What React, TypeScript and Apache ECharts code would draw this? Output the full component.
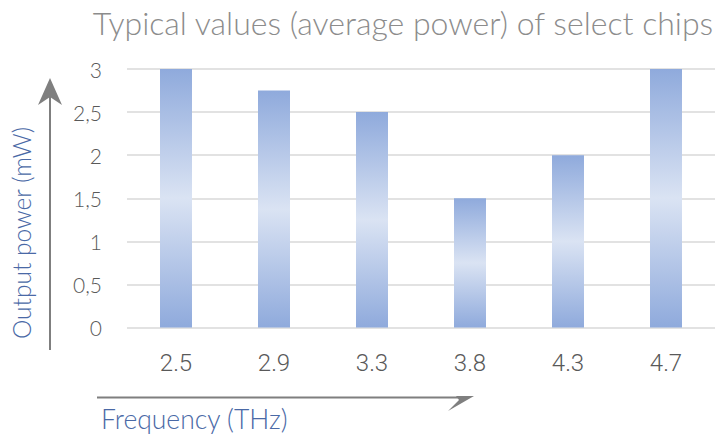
import React, { useEffect, useRef } from "react";
import * as echarts from "echarts";

const categories = ["2.5", "2.9", "3.3", "3.8", "4.3", "4.7"];
const outputPower = [3, 2.75, 2.5, 1.5, 2, 3];
const chartTitle = "Typical values (average power) of select chips";
const xTitle = "Frequency (THz)";
const yTitle = "Output power (mW)";

export default function App() {
  const ref = useRef<HTMLDivElement>(null);
  useEffect(() => {
    document.body.style.margin = "0";
    if (!ref.current) return;
    const chart = echarts.init(ref.current, null, { renderer: "svg" });
    const grad = new echarts.graphic.LinearGradient(0, 0, 0, 1, [
      { offset: 0, color: "#8faadc" },
      { offset: 0.5, color: "#dae3f3" },
      { offset: 1, color: "#8faadc" },
    ]);
    chart.setOption({
      animation: false,
      grid: { left: 127, right: 4, top: 69, bottom: 106.5 },
      xAxis: {
        type: "category",
        data: categories,
        axisLine: { show: false },
        axisTick: { show: false },
        axisLabel: {
          margin: 23,
          color: "#595959",
          fontFamily: "Roboto",
          fontWeight: 300,
          fontSize: 24,
        },
      },
      yAxis: {
        type: "value",
        min: 0,
        max: 3,
        interval: 0.5,
        axisLine: { show: false },
        axisTick: { show: false },
        splitLine: { lineStyle: { color: "#d9d9d9", width: 1.5 } },
        axisLabel: {
          margin: 25,
          color: "#595959",
          fontFamily: "Lato",
          fontWeight: 300,
          fontSize: 21,
          formatter: (v: number) => String(v).replace(".", ","),
        },
      },
      series: [
        {
          type: "bar",
          data: outputPower,
          barWidth: 32,
          itemStyle: { color: grad },
        },
      ],
      graphic: [
        {
          type: "text",
          x: 403,
          y: 22,
          style: {
            text: chartTitle,
            fill: "#8c8c8c",
            font: "300 32px Lato",
            align: "center",
            verticalAlign: "middle",
          },
        },
        {
          type: "text",
          x: 101,
          y: 419,
          style: {
            text: xTitle,
            fill: "#4a69a6",
            font: "300 26.5px Lato",
            align: "left",
            verticalAlign: "middle",
          },
        },
        {
          type: "text",
          x: 21,
          y: 233,
          rotation: Math.PI / 2,
          style: {
            text: yTitle,
            fill: "#4a69a6",
            font: "300 24.5px Lato",
            align: "center",
            verticalAlign: "middle",
          },
        },
        {
          type: "line",
          shape: { x1: 50, y1: 350, x2: 50, y2: 96 },
          style: { stroke: "#7f7f7f", lineWidth: 2 },
        },
        {
          type: "polygon",
          shape: { points: [[50, 78], [62, 105], [50, 97], [38, 105]] },
          style: { fill: "#7f7f7f" },
        },
        {
          type: "line",
          shape: { x1: 97, y1: 397.5, x2: 458, y2: 397.5 },
          style: { stroke: "#7f7f7f", lineWidth: 2 },
        },
        {
          type: "polygon",
          shape: { points: [[456, 396], [474, 396], [448, 411], [459, 400]] },
          style: { fill: "#7f7f7f" },
        },
      ],
    });
    return () => chart.dispose();
  }, []);
  return <div ref={ref} style={{ width: 719, height: 434 }} />;
}
